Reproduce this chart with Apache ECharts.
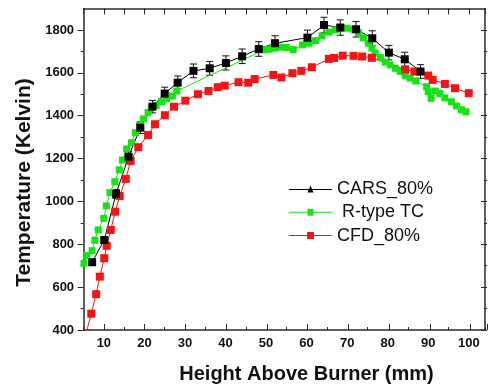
<!DOCTYPE html>
<html><head><meta charset="utf-8">
<script src="https://cdn.jsdelivr.net/npm/echarts@6/dist/echarts.min.js"></script>
<style>html,body{margin:0;padding:0;background:#fff}#c{width:488px;height:387px}</style>
</head><body><div id="c"></div>
<script>
// ---- data ----
const carsX = [7.1, 10.1, 13.0, 16.1, 19.0, 22.0, 25.0, 28.2, 32.1, 36.1, 40.1, 44.1, 48.2, 52.2, 60.2, 64.3, 68.3, 72.2, 76.2, 80.3, 84.2, 88.1];
const carsY = [716, 820, 1035, 1209, 1344, 1442, 1503, 1554, 1609, 1621, 1646, 1677, 1711, 1738, 1764, 1823, 1811, 1803, 1761, 1694, 1663, 1606];
const carsErr = [14, 16, 21, 24, 27, 29, 30, 31, 32, 32, 33, 34, 34, 35, 35, 36, 36, 36, 35, 34, 33, 32];

const tcX = [5.1, 5.8, 7.1, 7.8, 8.6, 10.0, 10.6, 11.5, 12.7, 13.8, 14.6, 15.6, 16.8, 17.8, 18.8, 19.8, 20.9, 21.7, 22.9, 24.2, 25.5, 26.9, 28.0,
  49.5, 50.8, 52.2, 53.5, 55.0, 56.7, 59.0, 60.6, 62.2, 63.8, 65.5, 67.1, 68.5, 70.0, 71.6, 72.8, 74.0, 75.3, 76.1, 76.9, 78.2, 79.4, 80.6, 81.9,
  83.1, 84.3, 85.5, 86.9, 89.6, 90.0, 90.7, 91.7, 92.9, 94.1, 95.7, 97.0, 98.2, 99.3];
const tcY = [711, 747, 770, 819, 867, 921, 979, 1041, 1092, 1147, 1193, 1245, 1274, 1321, 1355, 1385, 1415, 1435, 1447, 1465, 1478, 1492, 1515,
  1707, 1710, 1716, 1720, 1718, 1708, 1730, 1738, 1750, 1772, 1790, 1800, 1812, 1808, 1803, 1787, 1763, 1738, 1715, 1692, 1671, 1650, 1637, 1621,
  1606, 1588, 1575, 1562, 1535, 1512, 1481, 1515, 1503, 1483, 1465, 1445, 1428, 1418];

const cfdX = [5.6, 6.9, 8.1, 9.0, 10.1, 10.7, 11.7, 12.8, 13.9, 15.4, 16.6, 18.5, 20.9, 22.6, 25.05, 27.3, 30.1, 33.2, 35.8, 38.1, 39.8, 43.2, 45.6,
  47.2, 51.8, 53.8, 56.5, 58.7, 61.3, 65.5, 66.8, 68.9, 71.6, 73.7, 76.1, 84.3, 86.6, 90.0, 91.1, 94.1, 96.6, 100.0];
const cfdY = [383, 476, 567, 649, 735, 793, 867, 952, 1025, 1105, 1189, 1253, 1310, 1360, 1402, 1442, 1470, 1500, 1515, 1533, 1540, 1556, 1554,
  1571, 1590, 1578, 1598, 1609, 1626, 1665, 1669, 1680, 1679, 1676, 1670, 1616, 1606, 1587, 1567, 1548, 1528, 1505];

const seriesNames = ['CARS_80%', 'R-type TC', 'CFD_80%'];
const xLabelValues = [10, 20, 30, 40, 50, 60, 70, 80, 90, 100];
const yLabelValues = [400, 600, 800, 1000, 1200, 1400, 1600, 1800];
const xTitle = 'Height Above Burner (mm)';
const yTitle = 'Temperature (Kelvin)';

// ---- layout ----
const W = 488, H = 387;
const L = 83.6, R = 1, T = 8.5, B = 57;
const X0 = 5, X1 = 104, Y0 = 400, Y1 = 1900;
const sx = (W - L - R) / (X1 - X0);
const sy = (H - T - B) / (Y1 - Y0);
const pxX = v => L + (v - X0) * sx;
const pxY = v => T + (Y1 - v) * sy;

const AX = '#2a2a2a';
const FONT = '"Liberation Sans", Arial, Helvetica, sans-serif';
const zip = (a, b) => a.map((v, i) => [v, b[i]]);

const chart = echarts.init(document.getElementById('c'), null, {renderer: 'canvas'});

function hiddenAxis(extra) {
  return Object.assign({type: 'value', show: true, axisLine: {show: false}, axisTick: {show: false},
    axisLabel: {show: false}, splitLine: {show: false}}, extra);
}

const option = {
  animation: false,
  backgroundColor: '#fff',
  grid: [
    {left: L, right: R, top: T, bottom: B},                       // 0 main
    {left: L, right: R, top: pxY(1800), bottom: H - pxY(400)},     // 1 y major ticks
    {left: L, right: R, top: pxY(1700), bottom: H - pxY(500)},     // 2 y minor ticks
    {left: pxX(10), right: R, top: T, bottom: B}                   // 3 x major ticks bottom
  ],
  xAxis: [
    hiddenAxis({gridIndex: 0, position: 'bottom', min: X0, max: X1, interval: 5,
      axisLine: {show: true, lineStyle: {color: AX, width: 1.5}},
      axisLabel: {show: true, margin: 7, color: '#111', fontSize: 13, fontWeight: 'bold', fontFamily: FONT,
        formatter: v => xLabelValues.indexOf(v) >= 0 ? String(v) : ''}}),
    hiddenAxis({gridIndex: 0, position: 'bottom', min: X0, max: X1, interval: 10,
      axisTick: {show: true, inside: true, length: 3, lineStyle: {color: AX, width: 1}}}),
    hiddenAxis({gridIndex: 0, position: 'top', min: X0, max: X1, interval: 5,
      axisLine: {show: true, lineStyle: {color: AX, width: 1.5}},
      axisTick: {show: true, inside: true, length: 6, lineStyle: {color: AX, width: 1}}}),
    hiddenAxis({gridIndex: 1, min: X0, max: X1}),
    hiddenAxis({gridIndex: 2, min: X0, max: X1}),
    hiddenAxis({gridIndex: 3, position: 'bottom', min: 10, max: X1, interval: 10,
      axisTick: {show: true, inside: true, length: 6, lineStyle: {color: AX, width: 1}}})
  ],
  yAxis: [
    hiddenAxis({gridIndex: 0, position: 'left', min: Y0, max: Y1, interval: 100,
      axisLine: {show: true, lineStyle: {color: AX, width: 1.5}},
      axisLabel: {show: true, margin: 9.5, color: '#111', fontSize: 13, fontWeight: 'bold', fontFamily: FONT,
        formatter: v => yLabelValues.indexOf(v) >= 0 ? String(v) : ''}}),
    hiddenAxis({gridIndex: 0, position: 'right', min: Y0, max: Y1, interval: 100,
      axisLine: {show: true, lineStyle: {color: AX, width: 1.5}}}),
    hiddenAxis({gridIndex: 1, position: 'left', min: 400, max: 1800, interval: 200,
      axisTick: {show: true, inside: false, length: 6, lineStyle: {color: AX, width: 1}}}),
    hiddenAxis({gridIndex: 1, position: 'right', min: 400, max: 1800, interval: 200,
      axisTick: {show: true, inside: true, length: 6, lineStyle: {color: AX, width: 1}}}),
    hiddenAxis({gridIndex: 2, position: 'left', min: 500, max: 1700, interval: 200,
      axisTick: {show: true, inside: false, length: 3, lineStyle: {color: AX, width: 1}}}),
    hiddenAxis({gridIndex: 2, position: 'right', min: 500, max: 1700, interval: 200,
      axisTick: {show: true, inside: true, length: 3, lineStyle: {color: AX, width: 1}}}),
    hiddenAxis({gridIndex: 3, min: Y0, max: Y1})
  ],
  legend: {
    orient: 'vertical', left: 284, top: 175, itemWidth: 43, itemHeight: 7, itemGap: 5.3,
    selectedMode: false,
    itemStyle: {borderWidth: 0},
    textStyle: {fontSize: 18, fontFamily: FONT, color: '#111', lineHeight: 18},
    formatter: name => name === seriesNames[1] ? ' ' + name : name,
    data: [
      {name: seriesNames[0], icon: 'path://M0,5.5L43,5.5L43,6.5L0,6.5Z M18.5,9L21.5,2L24.5,9Z'},
      {name: seriesNames[1], icon: 'path://M0,5L43,5L43,6L0,6Z M18.5,2L24.5,2L24.5,9L18.5,9Z'},
      {name: seriesNames[2], icon: 'path://M0,5L43,5L43,6L0,6Z M18,2L25,2L25,9L18,9Z'}
    ]
  },
  graphic: [
    {type: 'text', x: 306.5, y: 374, style: {text: xTitle, font: 'bold 20px ' + FONT, fill: '#111',
      textAlign: 'center', textVerticalAlign: 'middle'}},
    {type: 'text', x: 24, y: 182.5, rotation: Math.PI / 2, style: {text: yTitle, font: 'bold 21px ' + FONT, fill: '#111',
      textAlign: 'center', textVerticalAlign: 'middle'}}
  ],
  series: [
    {name: seriesNames[1], type: 'line', xAxisIndex: 0, yAxisIndex: 0, data: zip(tcX, tcY), clip: true,
      symbol: 'rect', symbolSize: 7, color: '#14e414', lineStyle: {width: 1, color: '#14e414'},
      itemStyle: {color: '#14e414'}},
    {name: seriesNames[2], type: 'line', xAxisIndex: 0, yAxisIndex: 0, data: zip(cfdX, cfdY), clip: true,
      symbol: 'rect', symbolSize: 8, color: '#f41414', lineStyle: {width: 1, color: '#f41414'},
      itemStyle: {color: '#f41414'}},
    {name: 'err', type: 'custom', xAxisIndex: 0, yAxisIndex: 0,
      data: carsX.map((x, i) => [x, carsY[i] - carsErr[i], carsY[i] + carsErr[i]]),
      renderItem: function (params, api) {
        const x = api.value(0);
        const p1 = api.coord([x, api.value(2)]);
        const p2 = api.coord([x, api.value(1)]);
        const w = 3.5;
        const st = {stroke: '#111', lineWidth: 1};
        return {type: 'group', children: [
          {type: 'line', shape: {x1: p1[0], y1: p1[1], x2: p2[0], y2: p2[1]}, style: st},
          {type: 'line', shape: {x1: p1[0] - w, y1: p1[1], x2: p1[0] + w, y2: p1[1]}, style: st},
          {type: 'line', shape: {x1: p2[0] - w, y1: p2[1], x2: p2[0] + w, y2: p2[1]}, style: st}
        ]};
      }},
    {name: seriesNames[0], type: 'line', xAxisIndex: 0, yAxisIndex: 0, data: zip(carsX, carsY), clip: true,
      symbol: 'rect', symbolSize: 8, color: '#000', lineStyle: {width: 1, color: '#000'},
      itemStyle: {color: '#000'}}
  ]
};
chart.setOption(option);
</script>
</body></html>
